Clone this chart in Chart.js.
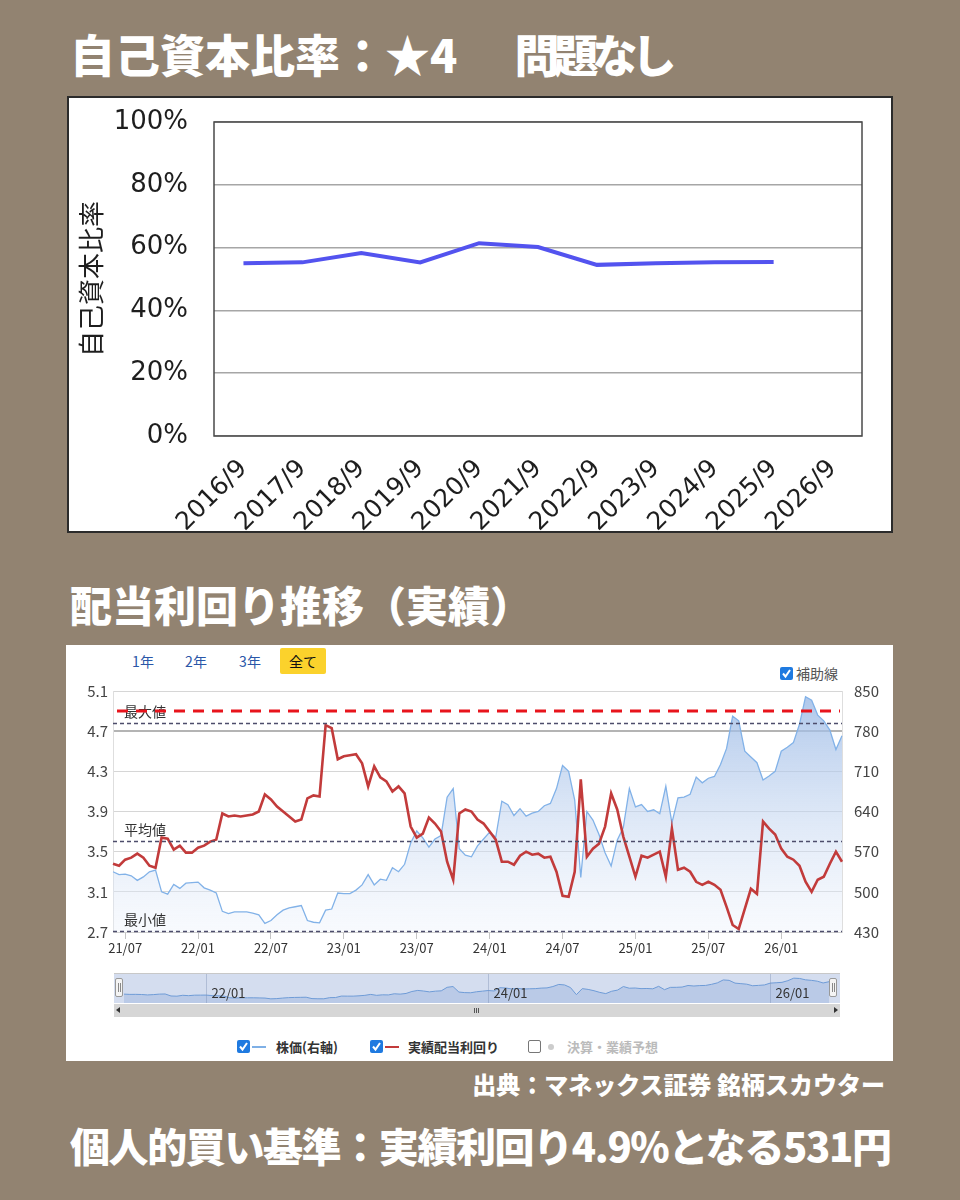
<!DOCTYPE html>
<html lang="ja">
<head>
<meta charset="UTF-8">
<script src="https://cdn.jsdelivr.net/npm/chart.js@4.4.1/dist/chart.umd.min.js"></script>
<style>
  html, body { margin: 0; padding: 0; }
  body { width: 960px; height: 1200px; background: #928371; position: relative; overflow: hidden;
         font-family: "Noto Sans CJK JP", "Noto Sans", sans-serif; }
  .abs { position: absolute; }
  .heading { color: #fff; font-weight: 900; line-height: 1; white-space: nowrap; }
  .panel { background: #fff; box-sizing: border-box; }
  .btn { font-size: 14px; color: #2a56a8; line-height: 26px; text-align: center; }
  .chk { width: 13px; height: 13px; border-radius: 2px; box-sizing: border-box; }
  .chk svg { display: block; }
  .chk.on { background: #1f7ae0; }
  .chk.off { background: #fff; border: 1px solid #777; }
  .lg { font-size: 13px; line-height: 16px; color: #333; white-space: nowrap; }
</style>
</head>
<body>

<div class="abs heading" style="left:70px; top:31px; font-size:45px;">自己資本比率：★4<span style="margin-left:57px; letter-spacing:-6px;">問題なし</span></div>

<div class="abs panel" style="left:67px; top:96px; width:826px; height:437px; border:2px solid #2b2b2b;"></div>
<canvas id="equityChart" class="abs" style="left:67px; top:96px;" width="826" height="437"></canvas>

<div class="abs heading" style="left:70px; top:583px; font-size:42px;">配当利回り推移（実績）</div>

<div class="abs panel" style="left:66px; top:645px; width:827px; height:416px;"></div>

<!-- range buttons -->
<div class="abs btn" style="left:128px; top:648px; width:30px;">1年</div>
<div class="abs btn" style="left:181px; top:648px; width:30px;">2年</div>
<div class="abs btn" style="left:235px; top:648px; width:30px;">3年</div>
<div class="abs btn" style="left:280px; top:648px; width:46px; height:26px; background:#fbd22c; color:#111; border-radius:2px;">全て</div>

<!-- helper line toggle -->
<div class="abs chk on" style="left:780px; top:667px;">
  <svg width="13" height="13"><polyline points="3,6.5 5.5,9.5 10,3" fill="none" stroke="#fff" stroke-width="2"/></svg>
</div>
<div class="abs lg" style="left:796px; top:665px; font-size:14px; color:#555;">補助線</div>

<canvas id="yieldChart" class="abs" style="left:66px; top:681px;" width="827" height="280"></canvas>

<!-- navigator -->
<div class="abs" style="left:114px; top:973px; width:726px; height:1px; background:#c8c8c8;"></div>
<div class="abs" style="left:114px; top:974px; width:726px; height:29px; background:#d4ddef;"></div>
<canvas id="navChart" class="abs" style="left:124px; top:974px;" width="705" height="29"></canvas>
<div class="abs" style="left:115px; top:978px; width:8px; height:19px; background:#f4f4f4; border:1px solid #999; border-radius:2px; box-sizing:border-box;">
  <div class="abs" style="left:2px; top:4px; width:1px; height:9px; background:#888;"></div>
  <div class="abs" style="left:4px; top:4px; width:1px; height:9px; background:#888;"></div>
</div>
<div class="abs" style="left:829px; top:978px; width:8px; height:19px; background:#f4f4f4; border:1px solid #999; border-radius:2px; box-sizing:border-box;">
  <div class="abs" style="left:2px; top:4px; width:1px; height:9px; background:#888;"></div>
  <div class="abs" style="left:4px; top:4px; width:1px; height:9px; background:#888;"></div>
</div>

<!-- scrollbar -->
<div class="abs" style="left:114px; top:1004px; width:726px; height:13px; background:#d6d6d6;"></div>
<div class="abs" style="left:116px; top:1007px; width:0; height:0; border-top:3px solid transparent; border-bottom:3px solid transparent; border-right:4px solid #333;"></div>
<div class="abs" style="left:834px; top:1007px; width:0; height:0; border-top:3px solid transparent; border-bottom:3px solid transparent; border-left:4px solid #333;"></div>
<div class="abs" style="left:474px; top:1008px; width:1px; height:5px; background:#555;"></div>
<div class="abs" style="left:476px; top:1008px; width:1px; height:5px; background:#555;"></div>
<div class="abs" style="left:478px; top:1008px; width:1px; height:5px; background:#555;"></div>

<!-- legend -->
<div class="abs chk on" style="left:237px; top:1040px;">
  <svg width="13" height="13"><polyline points="3,6.5 5.5,9.5 10,3" fill="none" stroke="#fff" stroke-width="2"/></svg>
</div>
<div class="abs" style="left:252px; top:1046px; width:14px; height:2px; background:#7fb0e6;"></div>
<div class="abs lg" style="left:276px; top:1039px; font-weight:bold;">株価(右軸)</div>

<div class="abs chk on" style="left:370px; top:1040px;">
  <svg width="13" height="13"><polyline points="3,6.5 5.5,9.5 10,3" fill="none" stroke="#fff" stroke-width="2"/></svg>
</div>
<div class="abs" style="left:385px; top:1046px; width:14px; height:2px; background:#c23b3b;"></div>
<div class="abs lg" style="left:408px; top:1039px; font-weight:bold;">実績配当利回り</div>

<div class="abs chk off" style="left:528px; top:1040px;"></div>
<div class="abs" style="left:548px; top:1044px; width:6px; height:6px; border-radius:3px; background:#ccc;"></div>
<div class="abs lg" style="left:567px; top:1039px; color:#bbb; font-weight:bold;">決算・業績予想</div>

<div class="abs heading" style="right:75px; top:1072px; font-size:24px;">出典：マネックス証券 銘柄スカウター</div>
<div class="abs heading" style="left:70px; top:1125px; font-size:40px; letter-spacing:-1.4px;">個人的買い基準：実績利回り4.9%となる531円</div>

<script>
// 自己資本比率
const equityYears = ['2016/9', '2017/9', '2018/9', '2019/9', '2020/9', '2021/9', '2022/9', '2023/9', '2024/9', '2025/9', '2026/9'];
const equityRatio = [55.0, 55.3, 58.3, 55.3, 61.4, 60.2, 54.5, 55.0, 55.3, 55.4, null];

// 配当利回り推移 (半月ごと)
const dates = [
    '21/06/01', '21/06/16', '21/07/01', '21/07/16', '21/08/01', '21/08/16', '21/09/01', '21/09/16', '21/10/01', '21/10/16', '21/11/01', '21/11/16', '21/12/01', '21/12/16',
    '22/01/01', '22/01/16', '22/02/01', '22/02/16', '22/03/01', '22/03/16', '22/04/01', '22/04/16', '22/05/01', '22/05/16', '22/06/01', '22/06/16',
    '22/07/01', '22/07/16', '22/08/01', '22/08/16', '22/09/01', '22/09/16', '22/10/01', '22/10/16', '22/11/01', '22/11/16', '22/12/01', '22/12/16',
    '23/01/01', '23/01/16', '23/02/01', '23/02/16', '23/03/01', '23/03/16', '23/04/01', '23/04/16', '23/05/01', '23/05/16', '23/06/01', '23/06/16',
    '23/07/01', '23/07/16', '23/08/01', '23/08/16', '23/09/01', '23/09/16', '23/10/01', '23/10/16', '23/11/01', '23/11/16', '23/12/01', '23/12/16',
    '24/01/01', '24/01/16', '24/02/01', '24/02/16', '24/03/01', '24/03/16', '24/04/01', '24/04/16', '24/05/01', '24/05/16', '24/06/01', '24/06/16',
    '24/07/01', '24/07/16', '24/08/01', '24/08/16', '24/09/01', '24/09/16', '24/10/01', '24/10/16', '24/11/01', '24/11/16', '24/12/01', '24/12/16',
    '25/01/01', '25/01/16', '25/02/01', '25/02/16', '25/03/01', '25/03/16', '25/04/01', '25/04/16', '25/05/01', '25/05/16', '25/06/01', '25/06/16',
    '25/07/01', '25/07/16', '25/08/01', '25/08/16', '25/09/01', '25/09/16', '25/10/01', '25/10/16', '25/11/01', '25/11/16', '25/12/01', '25/12/16',
    '26/01/01', '26/01/16', '26/02/01', '26/02/16', '26/03/01', '26/03/16', '26/04/01', '26/04/16', '26/05/01', '26/05/16', '26/06/01'
];
const yieldValues = [
    3.38, 3.36, 3.42, 3.44, 3.48, 3.44, 3.36, 3.34, 3.64, 3.63, 3.52, 3.56, 3.49, 3.49,
    3.54, 3.56, 3.60, 3.62, 3.88, 3.85, 3.86, 3.85, 3.86, 3.87, 3.90, 4.07,
    4.02, 3.95, 3.90, 3.85, 3.80, 3.82, 4.03, 4.06, 4.05, 4.76, 4.73, 4.42,
    4.45, 4.46, 4.47, 4.38, 4.15, 4.35, 4.24, 4.20, 4.10, 4.15, 4.08, 3.75,
    3.64, 3.68, 3.84, 3.78, 3.70, 3.40, 3.22, 3.88, 3.92, 3.90, 3.82, 3.78,
    3.70, 3.62, 3.40, 3.40, 3.37, 3.46, 3.50, 3.47, 3.48, 3.44, 3.45, 3.30,
    3.06, 3.05, 3.30, 4.22, 3.45, 3.53, 3.58, 3.75, 4.08, 3.92, 3.65, 3.45,
    3.25, 3.46, 3.44, 3.47, 3.50, 3.25, 3.73, 3.32, 3.34, 3.30, 3.20, 3.17,
    3.20, 3.17, 3.12, 2.95, 2.77, 2.73, 2.93, 3.13, 3.08, 3.80, 3.73, 3.67,
    3.53, 3.45, 3.42, 3.36, 3.20, 3.10, 3.22, 3.25, 3.38, 3.50, 3.40
];
const priceValues = [
    535, 530, 531, 528, 520, 526, 535, 538, 500, 496, 513, 506, 515, 516,
    517, 507, 503, 498, 466, 462, 465, 465, 465, 463, 460, 445,
    450, 460, 468, 472, 474, 476, 450, 447, 446, 468, 470, 498,
    497, 497, 503, 512, 530, 512, 522, 520, 542, 535, 548, 585,
    606, 594, 578, 592, 598, 665, 680, 575, 564, 561, 580, 592,
    604, 595, 658, 652, 633, 645, 632, 637, 640, 650, 654, 680,
    720, 710, 660, 525, 640, 625, 600, 568, 545, 590, 612, 680,
    648, 652, 640, 643, 636, 684, 620, 664, 665, 670, 700, 690,
    698, 701, 722, 750, 806, 798, 745, 735, 725, 695, 702, 710,
    745, 752, 760, 792, 840, 834, 808, 798, 782, 748, 772
];
const xTickLabels = ['21/07', '22/01', '22/07', '23/01', '23/07', '24/01', '24/07', '25/01', '25/07', '26/01'];
const navTickLabels = ['22/01', '24/01', '26/01'];

// 補助線
const buyYield = 4.9;
const maxYield = 4.78;
const avgYield = 3.61;
const minYield = 2.71;

const chart1Font = '"DejaVu Sans", sans-serif';
const chart2Font = '"Noto Sans CJK JP", "Noto Sans", sans-serif';
const noTick = 'rgba(0,0,0,0)';

const framePlugin = {
    id: 'frame',
    beforeDatasetsDraw(chart) {
        const { ctx, chartArea: a } = chart;
        ctx.save();
        ctx.strokeStyle = '#4a4a4a';
        ctx.lineWidth = 1.5;
        ctx.strokeRect(a.left, a.top, a.right - a.left, a.bottom - a.top);
        ctx.restore();
    }
};

const refLinePlugin = {
    id: 'refLines',
    afterDatasetsDraw(chart) {
        const { ctx, chartArea: a, scales } = chart;
        const y = scales.y;
        ctx.save();
        // 最大・平均・最小
        ctx.strokeStyle = '#4d4d6b';
        ctx.lineWidth = 1.3;
        ctx.setLineDash([4, 3]);
        [maxYield, avgYield, minYield].forEach(v => {
            const py = Math.round(y.getPixelForValue(v)) + 0.5;
            ctx.beginPath();
            ctx.moveTo(a.left, py);
            ctx.lineTo(a.right, py);
            ctx.stroke();
        });
        ctx.setLineDash([]);
        ctx.fillStyle = '#333';
        ctx.font = '14px ' + chart2Font;
        ctx.textBaseline = 'middle';
        [['最大値', maxYield], ['平均値', avgYield], ['最小値', minYield]].forEach(([t, v]) => {
            ctx.fillText(t, a.left + 11, y.getPixelForValue(v) - 11);
        });
        // 買い基準
        ctx.strokeStyle = '#e8141c';
        ctx.lineWidth = 3;
        ctx.setLineDash([11, 8]);
        const by = y.getPixelForValue(buyYield);
        ctx.beginPath();
        ctx.moveTo(a.left + 4, by);
        ctx.lineTo(a.right - 2, by);
        ctx.stroke();
        ctx.restore();
    }
};

const navLabelPlugin = {
    id: 'navLabels',
    afterDatasetsDraw(chart) {
        const { ctx, scales } = chart;
        ctx.save();
        ctx.font = '13px ' + chart2Font;
        ctx.fillStyle = '#333';
        ctx.textBaseline = 'middle';
        ctx.strokeStyle = 'rgba(110,130,170,0.35)';
        ctx.lineWidth = 1;
        navTickLabels.forEach(lbl => {
            const idx = dates.indexOf(lbl + '/01');
            const px = Math.round(scales.x.getPixelForValue(idx)) + 0.5;
            ctx.beginPath();
            ctx.moveTo(px, 0);
            ctx.lineTo(px, chart.height);
            ctx.stroke();
            ctx.fillText(lbl, px + 5, 19);
        });
        ctx.restore();
    }
};

function priceFill(context) {
    const { ctx, chartArea } = context.chart;
    if (!chartArea) return 'rgba(170,195,230,0.5)';
    const g = ctx.createLinearGradient(0, chartArea.top, 0, chartArea.bottom);
    g.addColorStop(0, 'rgba(150,182,228,0.78)');
    g.addColorStop(1, 'rgba(235,241,251,0.35)');
    return g;
}

const configs = [
    {
        id: 'equityChart',
        config: {
            type: 'line',
            data: {
                labels: equityYears,
                datasets: [{
                    data: equityRatio,
                    borderColor: '#5353ef',
                    borderWidth: 4,
                    pointRadius: 0,
                    tension: 0
                }]
            },
            options: {
                responsive: false,
                animation: false,
                layout: { padding: { top: 26, right: 31, left: 0, bottom: 0 } },
                plugins: { legend: { display: false }, tooltip: { enabled: false } },
                scales: {
                    x: {
                        offset: true,
                        grid: { display: false },
                        border: { display: false },
                        ticks: {
                            maxRotation: 45, minRotation: 45, autoSkip: false,
                            color: '#1e1e1e', padding: 10,
                            font: { family: chart1Font, size: 25 }
                        },
                        afterFit: (s) => { s.height = 97; }
                    },
                    y: {
                        min: 0, max: 100,
                        ticks: {
                            stepSize: 20, padding: 2, color: '#1e1e1e',
                            font: { family: chart1Font, size: 26 },
                            callback: (v) => v + '%'
                        },
                        grid: { color: '#a6a6a6', lineWidth: 1.5, drawTicks: true, tickLength: 24, tickColor: noTick },
                        border: { display: false },
                        title: {
                            display: true, text: '自己資本比率', color: '#1e1e1e',
                            font: { family: chart2Font, size: 26 },
                            padding: { top: 9, bottom: 0 }
                        },
                        afterFit: (s) => { s.width = 147; }
                    }
                }
            },
            plugins: [framePlugin]
        }
    },
    {
        id: 'yieldChart',
        config: {
            type: 'line',
            data: {
                labels: dates,
                datasets: [
                    {
                        label: '実績配当利回り',
                        data: yieldValues,
                        yAxisID: 'y',
                        borderColor: '#c23b3b',
                        borderWidth: 2.6,
                        pointRadius: 0,
                        tension: 0,
                        order: 1
                    },
                    {
                        label: '株価(右軸)',
                        data: priceValues,
                        yAxisID: 'y2',
                        borderColor: '#82b2e8',
                        borderWidth: 1.3,
                        pointRadius: 0,
                        tension: 0,
                        fill: 'start',
                        backgroundColor: priceFill,
                        order: 2
                    }
                ]
            },
            options: {
                responsive: false,
                animation: false,
                layout: { padding: { top: 10, right: 0, left: 0, bottom: 0 } },
                plugins: { legend: { display: false }, tooltip: { enabled: false } },
                scales: {
                    x: {
                        grid: {
                            drawOnChartArea: false, tickLength: 7,
                            color: (ctx) => (ctx.tick && ctx.tick.label ? '#c4c4c4' : noTick)
                        },
                        border: { display: true, color: '#d0d0d0' },
                        ticks: {
                            autoSkip: false, maxRotation: 0, minRotation: 0, padding: 1,
                            color: '#333', font: { family: chart2Font, size: 13 },
                            callback: (v, i) => {
                                const d = dates[i];
                                const ym = d.slice(0, 5);
                                return d.endsWith('/01') && xTickLabels.includes(ym) ? ym : '';
                            }
                        },
                        afterFit: (s) => { s.height = 29; }
                    },
                    y: {
                        position: 'left',
                        min: 2.7, max: 5.1,
                        ticks: {
                            stepSize: 0.4, padding: 0, color: '#444',
                            font: { family: chart2Font, size: 15 },
                            callback: (v) => v.toFixed(1)
                        },
                        grid: {
                            drawTicks: true, tickLength: 5, tickColor: noTick,
                            color: (ctx) => (Math.abs(ctx.tick.value - 4.7) < 0.01 ? '#b4b4b4' : '#d6d6d6'),
                            lineWidth: (ctx) => (Math.abs(ctx.tick.value - 4.7) < 0.01 ? 2 : 1)
                        },
                        border: { display: true, color: '#dedede' },
                        afterFit: (s) => { s.width = 47; }
                    },
                    y2: {
                        position: 'right',
                        min: 430, max: 850,
                        ticks: {
                            stepSize: 70, padding: 0, color: '#444',
                            font: { family: chart2Font, size: 15 }
                        },
                        grid: { drawOnChartArea: false, tickLength: 12, tickColor: noTick },
                        border: { display: true, color: '#dedede' },
                        afterFit: (s) => { s.width = 51; }
                    }
                }
            },
            plugins: [refLinePlugin]
        }
    },
    {
        id: 'navChart',
        config: {
            type: 'line',
            data: {
                labels: dates,
                datasets: [{
                    data: priceValues,
                    borderColor: '#6e9bd6',
                    borderWidth: 1,
                    pointRadius: 0,
                    tension: 0,
                    fill: 'start',
                    backgroundColor: 'rgba(95,135,205,0.22)'
                }]
            },
            options: {
                responsive: false,
                animation: false,
                layout: { padding: 0 },
                plugins: { legend: { display: false }, tooltip: { enabled: false } },
                scales: {
                    x: { display: false },
                    y: { display: false, min: 366, max: 919 }
                }
            },
            plugins: [navLabelPlugin]
        }
    }
];

configs.forEach(({ id, config }) => {
    new Chart(document.getElementById(id), config);
});
</script>
</body>
</html>
